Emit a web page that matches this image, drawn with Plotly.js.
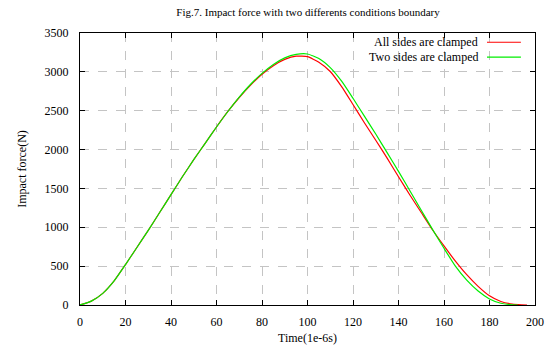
<!DOCTYPE html>
<html>
<head>
<meta charset="utf-8">
<script src="https://cdn.plot.ly/plotly-3.0.1.min.js"></script>
<style>html,body{margin:0;padding:0;background:#fff;}#chart{width:552px;height:351px;}</style>
</head>
<body>
<div id="chart"></div>
<script>
// Time (1e-6 s)
const timeAll = [0,5,10,15,20,25,30,35,40,45,50,55,60,65,70,75,80,85,90,95,100,105,110,115,120,125,130,135,140,145,150,155,160,165,170,175,180,185,190,194,196.5];
const forceAll = [0,50,150,310,520,740,960,1190,1420,1650,1870,2080,2290,2490,2670,2830,2970,3080,3160,3202,3195,3125,3005,2810,2580,2345,2120,1890,1650,1415,1190,965,760,565,390,240,118,45,12,2,0];

const timeTwo = [0,5,10,15,20,25,30,35,40,45,50,55,60,65,70,75,80,85,90,95,100,105,110,115,120,125,130,135,140,145,150,155,160,165,170,175,180,185,190,192.5];
const forceTwo = [0,50,150,310,520,740,960,1190,1420,1650,1870,2080,2290,2490,2675,2840,2980,3095,3180,3225,3230,3172,3055,2880,2660,2430,2200,1960,1720,1470,1220,970,730,500,320,180,78,22,3,0];

const seriesNames = ["All sides are clamped", "Two sides are clamped"];
const seriesColors = ["#ff0000", "#00ee00"];

const font = "Liberation Serif";

const traces = [
  {x: timeAll, y: forceAll, mode: "lines", line: {color: seriesColors[0], width: 1.2, shape: "spline", smoothing: 0.5}, name: seriesNames[0], showlegend: false},
  {x: timeTwo, y: forceTwo, mode: "lines", line: {color: seriesColors[1], width: 1.2, shape: "spline", smoothing: 0.5}, name: seriesNames[1], showlegend: false}
];

const legendRows = [0.966, 0.911];
const annotations = seriesNames.map((n, i) => ({
  text: n, xref: "paper", yref: "paper", x: 0.879, y: legendRows[i],
  xanchor: "right", yanchor: "middle", showarrow: false,
  font: {family: font, size: 12, color: "#000"}
}));
const shapes = seriesNames.map((n, i) => ({
  type: "line", xref: "paper", yref: "paper", x0: 0.8945, x1: 0.969,
  y0: legendRows[i], y1: legendRows[i],
  line: {color: seriesColors[i], width: 1.2}
}));

const axisCommon = {
  showline: true, linecolor: "#000", linewidth: 1.2, mirror: "allticks",
  ticks: "inside", ticklen: 5, tickcolor: "#000", tickwidth: 1,
  showgrid: true, gridcolor: "#c4c4c4", gridwidth: 1, griddash: "dash",
  zeroline: false, tickfont: {family: font, size: 12, color: "#000"}
};

const layout = {
  width: 552, height: 351,
  margin: {l: 80, r: 17, t: 33, b: 46},
  paper_bgcolor: "#fff", plot_bgcolor: "#fff",
  font: {family: font, size: 12, color: "#000"},
  title: {text: "Fig.7. Impact force with two differents conditions boundary", font: {family: font, size: 11, color: "#000"}, x: 0.558, xanchor: "center", y: 0.965, yanchor: "middle"},
  xaxis: Object.assign({}, axisCommon, {range: [0, 200], dtick: 20, tick0: 0, ticklabelstandoff: 5,
    title: {text: "Time(1e-6s)", font: {family: font, size: 12, color: "#000"}, standoff: 6}}),
  yaxis: Object.assign({}, axisCommon, {range: [0, 3500], dtick: 500, tick0: 0, ticklabelstandoff: 8,
    title: {text: "Impact force(N)", font: {family: font, size: 12, color: "#000"}, standoff: 15}}),
  annotations: annotations,
  shapes: shapes,
  showlegend: false
};

Plotly.newPlot("chart", traces, layout, {staticPlot: true, displayModeBar: false});
</script>
</body>
</html>
